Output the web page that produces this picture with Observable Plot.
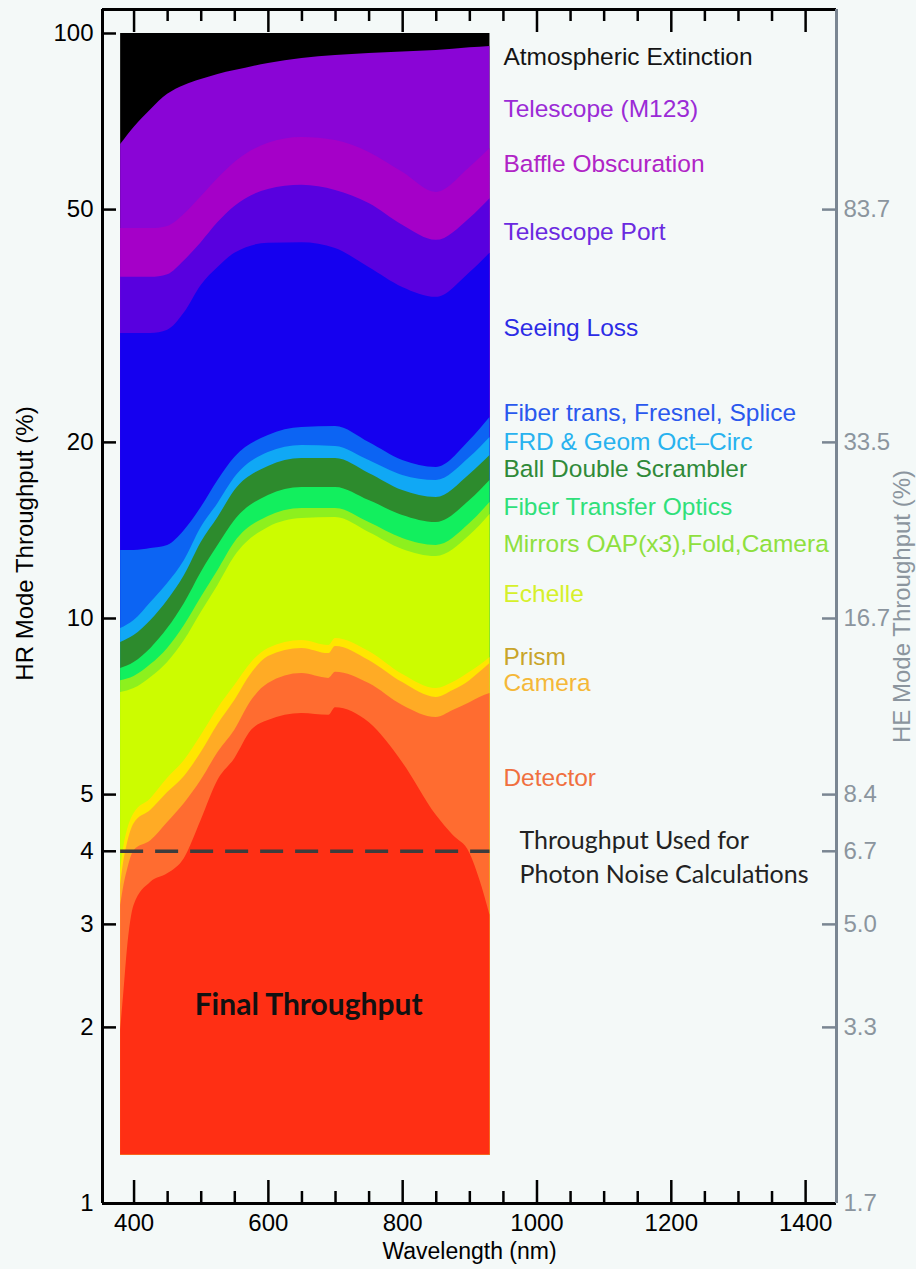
<!DOCTYPE html>
<html>
<head>
<meta charset="utf-8">
<script src="https://cdn.jsdelivr.net/npm/d3@7"></script>
<script src="https://cdn.jsdelivr.net/npm/@observablehq/plot@0.6"></script>
<style>
  html, body { margin: 0; padding: 0; background: #f4f9f8; }
  #chart svg { display: block; }
</style>
</head>
<body>
<div id="chart"></div>
<script>
// ---------- axes ----------
const xDomain = [353, 1446];            // wavelength (nm)
const yDomain = [1, 109.9];             // HR mode throughput (%)
const xMajorTicks = [400, 600, 800, 1000, 1200, 1400];
const xMinorTicks = [450, 500, 550, 650, 700, 750, 850, 900, 950, 1050, 1100, 1150, 1250, 1300, 1350];
const yTickLabels = [100, 50, 20, 10, 5, 4, 3, 2, 1];
const yTickMarks = [100, 50, 20, 10, 5, 4, 3, 2];
const heTickPositions = [50, 20, 10, 5, 4, 3, 2, 1];
const heTickLabels = ["83.7", "33.5", "16.7", "8.4", "6.7", "5.0", "3.3", "1.7"];

// ---------- wavelength grids ----------
const wlEnds = [380, 930];
const wlUpper = [380, 400, 425, 450, 475, 500, 525, 550, 600, 650, 700, 750, 800, 850, 900, 930];
const wlLower = [380, 385, 390, 400, 425, 450, 475, 500, 525, 550, 575, 600, 650, 690, 700, 750, 800, 850, 875, 900, 915, 930];

// ---------- cumulative throughput after each loss (upper edge of each band, %) ----------
const atmosphericTop = [100, 100];
const telescopeTop = [64.6, 69.1, 74.1, 78.7, 81.5, 83.4, 85.1, 86.4, 88.9, 90.6, 91.7, 92.4, 93.0, 93.5, 94.5, 95.0];
const baffleTop    = [46.4, 46.4, 46.4, 46.8, 49.1, 52.6, 56.5, 60.2, 64.9, 66.4, 65.6, 62.6, 57.9, 53.5, 59.0, 63.6];
const portTop      = [38.3, 38.3, 38.3, 38.7, 40.9, 43.9, 47.5, 50.6, 54.1, 55.0, 53.9, 51.2, 47.0, 44.3, 48.3, 52.2];
const seeingTop    = [30.7, 30.7, 30.7, 31.1, 33.3, 37.1, 39.8, 42.1, 43.8, 43.9, 42.9, 39.8, 36.8, 35.4, 39.0, 42.1];
const fiberTop     = [13.07, 13.07, 13.17, 13.33, 14.14, 15.48, 17.22, 18.84, 20.55, 21.21, 21.29, 19.99, 18.62, 18.12, 20.15, 22.06];
const frdTop       = [9.61, 9.92, 10.65, 11.48, 12.57, 14.31, 15.73, 17.42, 19.22, 19.76, 19.68, 18.62, 17.56, 17.22, 18.84, 20.39];
const scramblerTop = [9.10, 9.35, 9.92, 10.73, 11.84, 13.49, 14.88, 16.55, 18.19, 18.77, 18.77, 17.70, 16.55, 16.10, 17.63, 18.99];
const transferTop  = [8.21, 8.41, 8.89, 9.61, 10.61, 11.99, 13.33, 14.71, 16.23, 16.75, 16.75, 15.91, 15.00, 14.59, 15.91, 17.22];
const mirrorsTop   = [7.83, 7.96, 8.34, 8.89, 9.73, 10.86, 12.08, 13.49, 14.94, 15.42, 15.42, 14.59, 13.70, 13.33, 14.53, 15.79];
const echelleTop   = [7.47, 7.59, 7.93, 8.41, 9.17, 10.24, 11.39, 12.76, 14.31, 14.82, 14.88, 14.03, 13.12, 12.76, 13.86, 15.06];
const prismTop     = [3.71, 4.09, 4.34, 4.64, 4.92, 5.33, 5.72, 6.31, 7.02, 7.68, 8.41, 8.89, 9.17, 8.99, 9.24, 8.78, 8.02, 7.59, 7.77, 8.09, 8.31, 8.58];
const cameraTop    = [3.50, 3.86, 4.12, 4.46, 4.70, 5.04, 5.37, 5.90, 6.59, 7.24, 8.05, 8.61, 8.89, 8.71, 8.96, 8.48, 7.77, 7.33, 7.53, 7.83, 8.09, 8.38];
const detectorTop  = [3.23, 3.50, 3.71, 4.01, 4.17, 4.48, 4.83, 5.29, 5.90, 6.44, 7.24, 7.74, 8.05, 7.90, 8.09, 7.74, 7.10, 6.77, 6.96, 7.18, 7.33, 7.44];
const finalTop     = [1.98, 2.31, 2.71, 3.23, 3.54, 3.66, 3.89, 4.52, 5.29, 5.76, 6.44, 6.69, 6.88, 6.83, 7.04, 6.64, 5.67, 4.61, 4.26, 3.97, 3.57, 3.11];
const bandFloor = 1.21;

// ---------- layer names, colours, label levels ----------
const layerNames = ["Atmospheric Extinction", "Telescope (M123)", "Baffle Obscuration", "Telescope Port",
  "Seeing Loss", "Fiber trans, Fresnel, Splice", "FRD & Geom Oct\u2013Circ", "Ball Double Scrambler",
  "Fiber Transfer Optics", "Mirrors OAP(x3),Fold,Camera", "Echelle", "Prism", "Camera", "Detector", "Final Throughput"];
const layerFills = ["#000000", "#8a05d6", "#a500c8", "#5800df", "#1500ef", "#0c64f3", "#10a8f5", "#2d8b2d",
  "#12ef5e", "#8df01e", "#ccfc00", "#ffe600", "#ffab25", "#ff6c30", "#ff2f14"];
const labelColors = ["#141414", "#9b2bd6", "#b024c6", "#6a2ae0", "#2c2ce6", "#2a58ee", "#28b2ef", "#2f8a39",
  "#2fe07a", "#8ee03e", "#d6f02a", "#c9a52a", "#f5b838", "#f0703f"];
const labelLevels = [91.0, 74.1, 59.7, 45.7, 31.3, 22.4, 20.0, 17.98, 15.5, 13.4, 11.0, 8.58, 7.74, 5.33];
const labelWavelength = 950;

const photonNoiseLevel = 4;
const bandStart = 380, bandEnd = 930;
const noteText = "Throughput Used for\nPhoton Noise Calculations";
const noteWavelength = 974;
const finalLabelWavelength = 660, finalLabelLevel = 2.18;

const layerWl = [wlEnds, wlUpper, wlUpper, wlUpper, wlUpper, wlUpper, wlUpper, wlUpper, wlUpper, wlUpper,
  wlUpper, wlLower, wlLower, wlLower, wlLower];
const layerTops = [atmosphericTop, telescopeTop, baffleTop, portTop, seeingTop, fiberTop, frdTop, scramblerTop,
  transferTop, mirrorsTop, echelleTop, prismTop, cameraTop, detectorTop, finalTop];

const rows = (wls, vals) => wls.map((w, i) => ({w, v: vals[i]}));

// ---------- layout ----------
const W = 916, H = 1269;
const mL = 102, mR = 80, mT = 9, mB = 66;
const innerW = W - mL - mR, innerH = H - mT - mB;
const gray = "#7a8692", grayText = "#8b959e";
const sans = "'Liberation Sans', Arial, Helvetica, sans-serif";
const heLabelFor = new Map(heTickPositions.map((v, i) => [v, heTickLabels[i]]));

const marks = [];
layerNames.forEach((name, i) => {
  marks.push(Plot.areaY(rows(layerWl[i], layerTops[i]), {
    x: "w", y1: bandFloor, y2: "v", fill: layerFills[i], curve: "monotone-x"
  }));
});
marks.push(Plot.ruleY([photonNoiseLevel], {x1: bandStart, x2: bandEnd, stroke: "#3d3d3d", strokeWidth: 3.5, strokeDasharray: "23,12"}));

// frame
marks.push(Plot.ruleX([xDomain[0]], {stroke: "#000", strokeWidth: 3}));
marks.push(Plot.ruleY([yDomain[0]], {stroke: "#000", strokeWidth: 3}));
marks.push(Plot.ruleY([yDomain[1]], {stroke: "#000", strokeWidth: 3}));
marks.push(Plot.ruleX([xDomain[1]], {stroke: gray, strokeWidth: 3}));

// inward ticks
marks.push(Plot.tickX(xMajorTicks, {x: d => d, insetTop: innerH - 23, stroke: "#000", strokeWidth: 2.5}));
marks.push(Plot.tickX(xMinorTicks, {x: d => d, insetTop: innerH - 12, stroke: "#000", strokeWidth: 2.5}));
marks.push(Plot.tickX(xMajorTicks, {x: d => d, insetBottom: innerH - 23, stroke: "#000", strokeWidth: 2.5}));
marks.push(Plot.tickX(xMinorTicks, {x: d => d, insetBottom: innerH - 12, stroke: "#000", strokeWidth: 2.5}));
marks.push(Plot.tickY(yTickMarks, {y: d => d, insetRight: innerW - 14, stroke: "#000", strokeWidth: 2.5}));
marks.push(Plot.tickY(heTickPositions.filter(d => d > 1), {y: d => d, insetLeft: innerW - 14, stroke: gray, strokeWidth: 2.5}));

// tick labels
marks.push(Plot.axisX(xMajorTicks, {anchor: "bottom", tickSize: 0, tickPadding: 10, fontSize: 24, fontFamily: sans, fill: "#000", label: null, tickFormat: d => `${d}`}));
marks.push(Plot.axisY(yTickLabels, {anchor: "left", tickSize: 0, tickPadding: 9, fontSize: 24, fontFamily: sans, fill: "#000", label: null, tickFormat: d => `${d}`}));
marks.push(Plot.axisY(heTickPositions, {anchor: "right", tickSize: 0, tickPadding: 7, fontSize: 24, fontFamily: sans, fill: grayText, label: null, tickFormat: d => heLabelFor.get(d)}));

// axis titles
marks.push(Plot.text(["Wavelength (nm)"], {frameAnchor: "bottom", dy: 55, textAnchor: "middle", fontSize: 23, fontFamily: sans, fill: "#000"}));
marks.push(Plot.text(["HR Mode Throughput (%)"], {frameAnchor: "left", dx: -77, dy: -63, textAnchor: "middle", rotate: -90, fontSize: 24, fontFamily: sans, fill: "#000"}));
marks.push(Plot.text(["HE Mode Throughput (%)"], {frameAnchor: "right", dx: 66, textAnchor: "middle", rotate: -90, fontSize: 24, fontFamily: sans, fill: grayText}));

// layer labels
labelLevels.forEach((lv, i) => {
  marks.push(Plot.text([layerNames[i]], {x: labelWavelength, y: lv, textAnchor: "start", fontSize: 24.5, fontFamily: sans, fill: labelColors[i]}));
});

// annotations
marks.push(Plot.text([noteText], {x: noteWavelength, y: photonNoiseLevel, dy: 4, textAnchor: "start", lineHeight: 1.33,
  fontSize: 25, fontFamily: "Lato, 'Open Sans', sans-serif", fill: "#222"}));
marks.push(Plot.text([layerNames[14]], {x: finalLabelWavelength, y: finalLabelLevel, fontSize: 30, fontWeight: "bold",
  fontFamily: "Lato, 'Open Sans', sans-serif", fill: "#111"}));

const chart = Plot.plot({
  width: W, height: H,
  marginLeft: mL, marginRight: mR, marginTop: mT, marginBottom: mB,
  style: {background: "#f4f9f8", fontFamily: sans},
  x: {domain: xDomain, axis: null},
  y: {type: "log", domain: yDomain, axis: null},
  marks
});
document.getElementById("chart").append(chart);
</script>
</body>
</html>
